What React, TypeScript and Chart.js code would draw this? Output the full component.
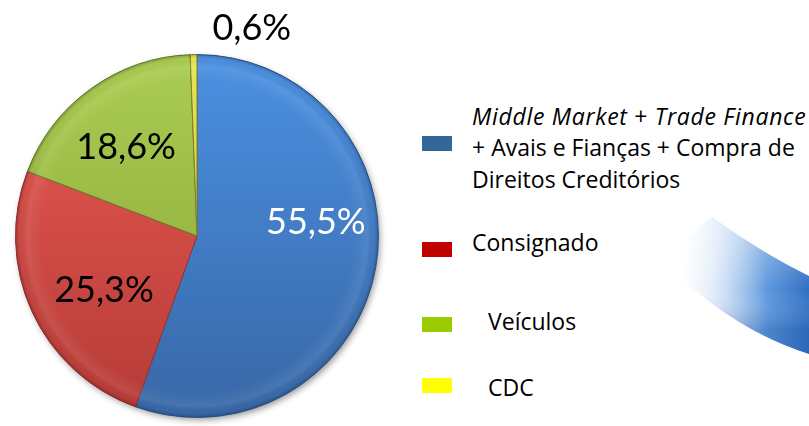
import React, { useEffect, useRef } from "react";
import { Chart, registerables } from "chart.js";

Chart.register(...registerables);

const categories: (string | string[])[] = [
  ["Middle Market + Trade Finance", "+ Avais e Fianças + Compra de", "Direitos Creditórios"],
  "Consignado",
  "Veículos",
  "CDC",
];
const shares = [55.5, 25.3, 18.6, 0.6];
const italicTerms = ["Middle Market", "Trade Finance"];

const sliceTop = ["#4b91e2", "#ea5b55", "#abcd52", "#e6e65a"];
const sliceBottom = ["#3867a6", "#b53a36", "#86a236", "#b8b838"];
const sliceBorder = ["#2f5b92", "#9c302c", "#667f26", "#7f7f24"];
const legendColors = ["#336699", "#C00000", "#99CC00", "#FFFF00"];
const labelColors = ["#ffffff", "#000000", "#000000", "#000000"];

// label placement: angle (deg, clockwise from top) and radius fraction
const labelPlacement = [
  { angle: 82.8, r: 0.66 },
  { angle: 240.3, r: 0.59 },
  { angle: 321.7, r: 0.63 },
  { angle: 14.7, r: 1.19 },
];

const legendLayout = [
  { sq: 136, text: 100.5, x: 472 },
  { sq: 242, text: 226.5, x: 472 },
  { sq: 317, text: 306, x: 488 },
  { sq: 378, text: 372, x: 488 },
];

const fmt = (v: number) => v.toFixed(1).replace(".", ",") + "%";

const FONT = "Lato, 'Open Sans', sans-serif";
const LEGEND_FONT = "'Open Sans', Lato, sans-serif";

function hasItalic(line: string) {
  return italicTerms.some((t) => line.includes(t));
}

function renderItalic(line: string) {
  const parts: React.ReactNode[] = [];
  let rest = line;
  let k = 0;
  while (rest.length) {
    let idx = -1;
    let term = "";
    for (const t of italicTerms) {
      const i = rest.indexOf(t);
      if (i >= 0 && (idx < 0 || i < idx)) {
        idx = i;
        term = t;
      }
    }
    if (idx < 0) {
      parts.push(<span key={k++}>{rest}</span>);
      break;
    }
    if (idx > 0) parts.push(<span key={k++}>{rest.slice(0, idx)}</span>);
    parts.push(<i key={k++}>{term}</i>);
    rest = rest.slice(idx + term.length);
  }
  return parts;
}

const shadowPlugin = {
  id: "pieShadow",
  beforeDatasetsDraw(chart: any) {
    const arc = chart.getDatasetMeta(0).data[0];
    if (!arc) return;
    const { x, y, outerRadius } = arc.getProps(["x", "y", "outerRadius"], true);
    const ctx = chart.ctx;
    ctx.save();
    ctx.shadowColor = "rgba(0,0,0,0.45)";
    ctx.shadowBlur = 7;
    ctx.shadowOffsetX = 2;
    ctx.shadowOffsetY = 3;
    ctx.beginPath();
    ctx.arc(x, y, outerRadius - 1, 0, Math.PI * 2);
    ctx.fillStyle = "#888";
    ctx.fill();
    ctx.restore();
  },
  afterDatasetsDraw(chart: any) {
    const arc = chart.getDatasetMeta(0).data[0];
    if (!arc) return;
    const { x, y, outerRadius } = arc.getProps(["x", "y", "outerRadius"], true);
    const ctx = chart.ctx;
    ctx.save();
    const g = ctx.createRadialGradient(x, y, outerRadius * 0.86, x, y, outerRadius);
    g.addColorStop(0, "rgba(255,255,255,0)");
    g.addColorStop(0.55, "rgba(255,255,255,0.08)");
    g.addColorStop(0.85, "rgba(0,0,0,0.02)");
    g.addColorStop(1, "rgba(0,0,0,0.22)");
    ctx.beginPath();
    ctx.arc(x, y, outerRadius, 0, Math.PI * 2);
    ctx.fillStyle = g;
    ctx.fill();
    ctx.restore();
  },
};

const labelPlugin = {
  id: "sliceLabels",
  afterDraw(chart: any) {
    const meta = chart.getDatasetMeta(0);
    const ctx = chart.ctx;
    const size = 36;
    ctx.save();
    ctx.font = `${size}px ${FONT}`;
    ctx.textAlign = "center";
    ctx.textBaseline = "alphabetic";
    meta.data.forEach((arc: any, i: number) => {
      const { x, y, outerRadius } = arc.getProps(["x", "y", "outerRadius"], true);
      const p = labelPlacement[i];
      const a = (p.angle * Math.PI) / 180;
      const lx = x + Math.sin(a) * outerRadius * p.r;
      const ly = y - Math.cos(a) * outerRadius * p.r;
      ctx.fillStyle = labelColors[i];
      ctx.fillText(fmt(shares[i]), lx, ly + size * 0.358);
    });
    ctx.restore();
  },
};

export default function App() {
  const ref = useRef<HTMLCanvasElement>(null);

  useEffect(() => {
    if (!ref.current) return;
    const chart = new Chart(ref.current, {
      type: "pie",
      data: {
        labels: categories as any,
        datasets: [
          {
            data: shares,
            backgroundColor: (c: any) => {
              const ch = c.chart;
              const area = ch.chartArea;
              if (!area) return sliceTop[c.dataIndex];
              const g = ch.ctx.createLinearGradient(0, area.top, 0, area.bottom);
              g.addColorStop(0, sliceTop[c.dataIndex]);
              g.addColorStop(1, sliceBottom[c.dataIndex]);
              return g;
            },
            borderColor: sliceBorder,
            borderWidth: 1,
          },
        ],
      },
      options: {
        animation: false,
        responsive: true,
        maintainAspectRatio: false,
        layout: { padding: { top: 54, bottom: 8, left: 15, right: 15 } },
        plugins: {
          legend: { display: false },
          tooltip: { enabled: false },
        },
      },
      plugins: [shadowPlugin, labelPlugin],
    });
    return () => chart.destroy();
  }, []);

  return (
    <div
      style={{
        position: "fixed",
        left: 0,
        top: 0,
        width: 809,
        height: 426,
        background: "#ffffff",
        overflow: "hidden",
        fontFamily: LEGEND_FONT,
      }}
    >
      <svg width={809} height={426} style={{ position: "absolute", left: 0, top: 0 }}>
        <defs>
          <linearGradient id="sw" x1="670" y1="0" x2="809" y2="0" gradientUnits="userSpaceOnUse">
            <stop offset="0" stopColor="#ffffff" stopOpacity="0" />
            <stop offset="0.35" stopColor="#c9dcf4" stopOpacity="0.7" />
            <stop offset="0.7" stopColor="#5d97dd" stopOpacity="1" />
            <stop offset="1" stopColor="#2f6fc2" stopOpacity="1" />
          </linearGradient>
          <linearGradient id="swHi" x1="0" y1="230" x2="0" y2="330" gradientUnits="userSpaceOnUse">
            <stop offset="0" stopColor="#ffffff" stopOpacity="0.35" />
            <stop offset="0.6" stopColor="#ffffff" stopOpacity="0" />
            <stop offset="1" stopColor="#1d4f95" stopOpacity="0.25" />
          </linearGradient>
        </defs>
        <path
          d="M 712 217 Q 760 252 809 276 L 809 354 Q 732 330 664 262 Q 688 236 712 217 Z"
          fill="url(#sw)"
        />
        <path
          d="M 712 217 Q 760 252 809 276 L 809 354 Q 732 330 664 262 Q 688 236 712 217 Z"
          fill="url(#swHi)"
        />
      </svg>
      <div style={{ position: "absolute", left: 0, top: 0, width: 394, height: 426 }}>
        <canvas ref={ref} />
      </div>
      {categories.map((cat, i) => {
        const lines = Array.isArray(cat) ? cat : [cat];
        const lay = legendLayout[i];
        return (
          <React.Fragment key={i}>
            <div
              style={{
                position: "absolute",
                left: 422,
                top: lay.sq,
                width: 30,
                height: 15,
                background: legendColors[i],
              }}
            />
            <div
              style={{
                position: "absolute",
                left: lay.x,
                top: lay.text,
                fontSize: 23,
                lineHeight: "31.5px",
                color: "#000",
                whiteSpace: "nowrap",
              }}
            >
              {lines.map((ln, j) => (
                <div key={j} style={{ letterSpacing: hasItalic(ln) ? "0.7px" : undefined }}>
                  {renderItalic(ln)}
                </div>
              ))}
            </div>
          </React.Fragment>
        );
      })}
    </div>
  );
}
